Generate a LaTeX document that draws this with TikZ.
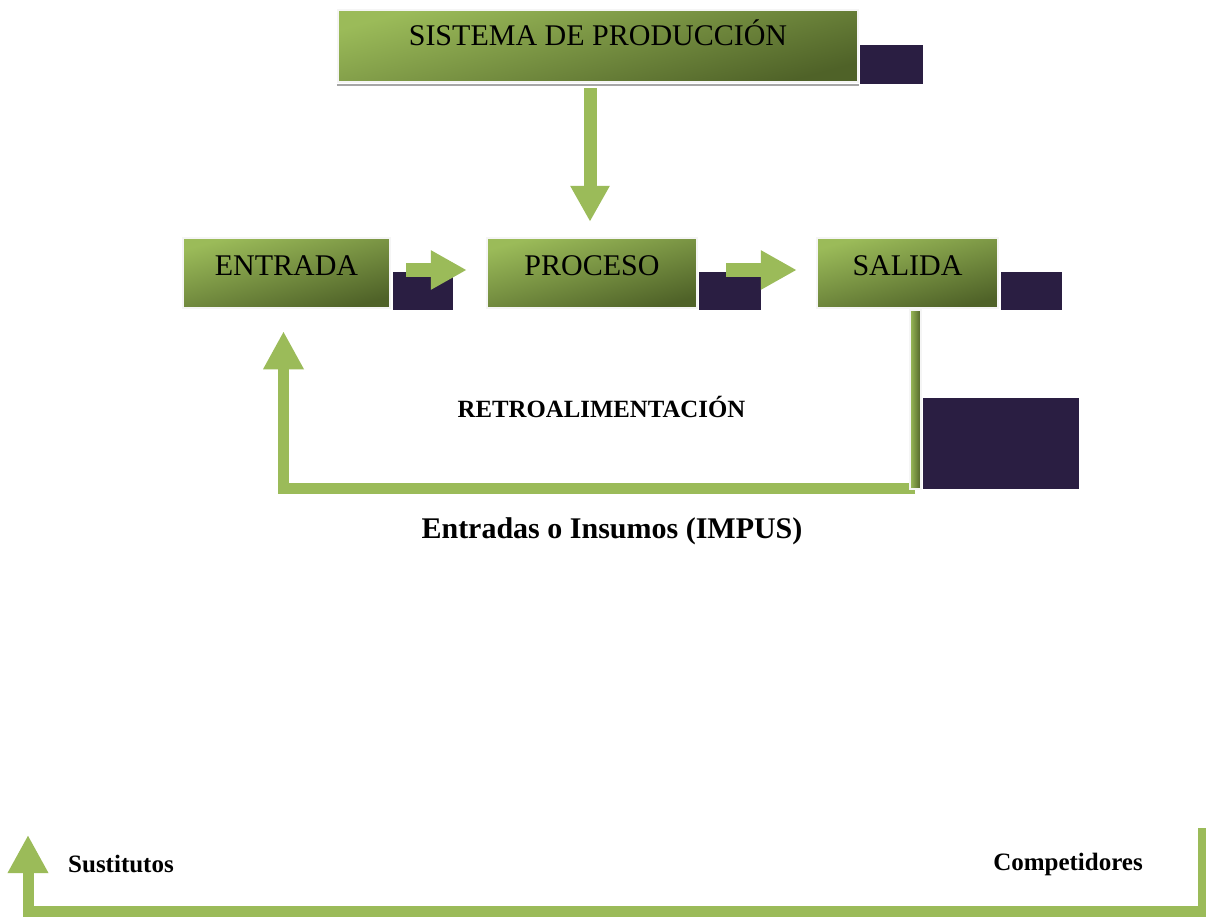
\documentclass[tikz,border=0pt]{standalone}
\usepackage{fontspec}
\setmainfont{Liberation Serif}
\usetikzlibrary{arrows.meta,calc}
\definecolor{gLight}{HTML}{9BBB59}
\definecolor{gDark}{HTML}{4F6228}
\definecolor{gArrow}{HTML}{9BBB59}
\definecolor{navy}{RGB}{42,30,66}
\tikzset{
  gbox/.style={draw=gray!8, line width=2.5pt, top color=gLight, bottom color=gDark, shading angle=15, minimum width=#1, minimum height=70pt, inner sep=0pt},
  btxt/.style={anchor=base, inner sep=0pt, font=\fontsize{30}{36}\selectfont},
  bold/.style={anchor=base, inner sep=0pt, font=\fontsize{#1}{#1}\selectfont\bfseries},
  darkbox/.style={fill=navy, draw=none},
  blk/.style={draw=gArrow, line width=13pt, -{Triangle[width=37pt,length=36pt]}},
  fbk/.style={draw=gArrow, line width=11pt, line join=miter, -{Triangle[width=38pt,length=38pt]}}
}
\begin{document}
\begin{tikzpicture}[x=1pt,y=-1pt]
\useasboundingbox (0,0) rectangle (1206,920);
% dark rectangles
\fill[darkbox] (860,45) rectangle (923,84);
\fill[darkbox] (393,272) rectangle (453,310);
\fill[darkbox] (699,272) rectangle (761,310);
\fill[darkbox] (1001,272) rectangle (1062,310);
\fill[darkbox] (923,398) rectangle (1079,489);
% boxes
\node[gbox=520pt, minimum height=72pt] (sis) at (598,46) {};
\draw[gray!70, line width=1.5pt] (sis.south west) ++(0,2) -- ++(522,0);
\node[gbox=207pt] (ent) at (286.5,273) {};
\node[gbox=210pt] (proc) at (592,273) {};
\node[gbox=181pt] (sal) at (907.5,273) {};
\node[btxt] (tsis) at (598,46) {SISTEMA DE PRODUCCIÓN};
\node[btxt] (tent) at (286.5,275) {ENTRADA};
\node[btxt] (tproc) at (592,275) {PROCESO};
\node[btxt] (tsal) at (907.5,275) {SALIDA};
% arrows
\draw[blk] ($(sis.south)+(-8,5)$) -- ($(proc.north)+(-2,-15)$);
\draw[blk, line width=14pt] ($(ent.east)+(15,-3)$) -- ($(proc.west)+(-19,-3)$);
\draw[blk, line width=14pt] ($(proc.east)+(28,-3)$) -- ($(sal.west)+(-19,-3)$);
% feedback
\coordinate (fb) at (915,488);
\draw[fbk] (fb) -| ($(ent.south)+(-3,22)$);
\shade[left color=gLight, right color=gDark, draw=gray!8, line width=1.5pt] (910,310) rectangle (921,489);
\node[bold=24.8] (retro) at (601.5,417) {RETROALIMENTACIÓN};
\node[bold=30] (insumos) at (612,538) {Entradas o Insumos (IMPUS)};
% bottom
\coordinate (cR) at (1203,828);
\coordinate (cL) at (28,835);
\draw[fbk] (cR) |- ($(cL)+(0,76)$) -- (cL);
\node[bold=25] (sust) at (121,872) {Sustitutos};
\node[bold=25] (comp) at (1068,870) {Competidores};
\end{tikzpicture}
\end{document}
